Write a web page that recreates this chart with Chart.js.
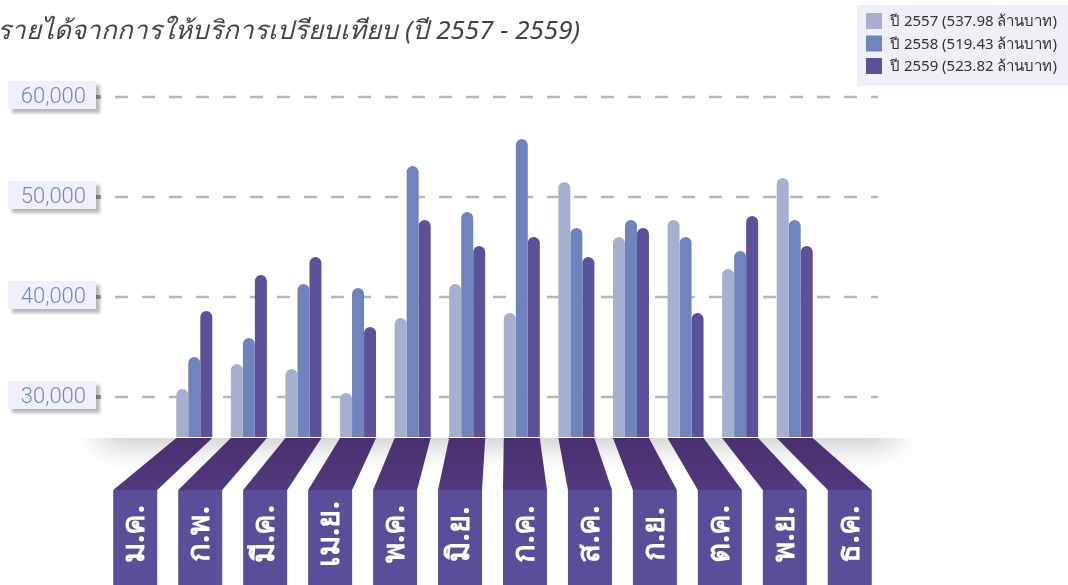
<!DOCTYPE html>
<html>
<head>
<meta charset="utf-8">
<script src="https://cdn.jsdelivr.net/npm/chart.js@4.4.1/dist/chart.umd.min.js"></script>
<style>
  html, body { margin: 0; padding: 0; background: #fff; }
  #wrap { width: 1068px; height: 585px; overflow: hidden; }
</style>
</head>
<body>
<div id="wrap"><canvas id="chart" width="1068" height="585"></canvas></div>
<script>
const title_text = 'รายได้จากการให้บริการเปรียบเทียบ (ปี 2557 - 2559)'
const months = ['ม.ค.', 'ก.พ.', 'มี.ค.', 'เม.ย.', 'พ.ค.', 'มิ.ย.', 'ก.ค.', 'ส.ค.', 'ก.ย.', 'ต.ค.', 'พ.ย.', 'ธ.ค.']
const series_names = ['ปี 2557 (537.98 ล้านบาท)', 'ปี 2558 (519.43 ล้านบาท)', 'ปี 2559 (523.82 ล้านบาท)']
const y2557 = [30800, 33300, 32800, 30400, 37900, 41300, 38400, 51500, 46000, 47700, 42800, 51900]
const y2558 = [34000, 35900, 41300, 40900, 53100, 48500, 55800, 46900, 47700, 46000, 44600, 47700]
const y2559 = [38600, 42200, 44000, 37000, 47700, 45100, 46000, 44000, 46900, 38400, 48100, 45100]
const y_ticks = [30000, 40000, 50000, 60000]
const colors = ['#a6afd0', '#6f84bc', '#5d509b']

const thai_font = '"Noto Sans", "Open Sans", sans-serif'

// gridlines, tick boxes, shadow shelf, month ribbons, title and legend
const decor = {
    id: 'decor',
    beforeDatasetsDraw(chart) {
        const ctx = chart.ctx
        const area = chart.chartArea
        const y = chart.scales.y

        // soft shadow under the bars
        ctx.save()
        ctx.beginPath()
        ctx.rect(0, area.bottom + 1, chart.width, 70)
        ctx.clip()
        ctx.shadowColor = 'rgba(0,0,0,0.30)'
        ctx.shadowBlur = 30
        ctx.shadowOffsetY = 4
        ctx.fillStyle = '#fff'
        ctx.fillRect(100, area.bottom - 20, 795, 21)
        ctx.restore()

        y_ticks.forEach(v => {
            const py = Math.round(y.getPixelForValue(v))

            ctx.save()
            ctx.strokeStyle = '#b8b8b8'
            ctx.lineWidth = 2.5
            ctx.setLineDash([13, 14])
            ctx.beginPath()
            ctx.moveTo(115, py)
            ctx.lineTo(878, py)
            ctx.stroke()
            ctx.restore()

            ctx.fillStyle = '#a0a0a0'
            ctx.fillRect(96, py - 2, 5, 4)

            ctx.save()
            ctx.shadowColor = 'rgba(0,0,0,0.28)'
            ctx.shadowBlur = 3
            ctx.shadowOffsetX = 4
            ctx.shadowOffsetY = 4
            ctx.fillStyle = '#eef1f9'
            ctx.fillRect(8, py - 16, 88, 28)
            ctx.restore()

            ctx.fillStyle = '#7389c2'
            ctx.font = '300 22px Roboto, sans-serif'
            ctx.textAlign = 'right'
            ctx.textBaseline = 'alphabetic'
            ctx.fillText(v.toLocaleString('en-US'), 86, py + 6)
        })
    },
    afterDraw(chart) {
        const ctx = chart.ctx
        const area = chart.chartArea
        const x = chart.scales.x
        const mid = (area.left + area.right) / 2
        const gh = x.width / months.length * 0.66 / 2
        const top = area.bottom + 1
        const bend = area.bottom + 53

        months.forEach((m, i) => {
            const gc = x.getPixelForValue(i)
            const bc = mid - 2 + (gc - mid) * 1.19

            const g = ctx.createLinearGradient(0, top, 0, bend)
            g.addColorStop(0, '#49306f')
            g.addColorStop(1, '#53397e')
            ctx.fillStyle = g
            ctx.beginPath()
            ctx.moveTo(gc - gh, top)
            ctx.lineTo(gc + gh, top)
            ctx.lineTo(bc + 22, bend)
            ctx.lineTo(bc - 22, bend)
            ctx.closePath()
            ctx.fill()

            ctx.fillStyle = '#5c4d9b'
            ctx.fillRect(bc - 22, bend, 44, chart.height - bend)

            ctx.save()
            ctx.translate(bc, 534)
            ctx.rotate(-Math.PI / 2)
            ctx.fillStyle = '#fff'
            ctx.font = 'bold 31px ' + thai_font
            ctx.textAlign = 'center'
            ctx.textBaseline = 'middle'
            ctx.fillText(m, 0, 0)
            ctx.restore()
        })

        // title, cut off at the left edge like the original
        ctx.fillStyle = '#444'
        ctx.font = 'italic 26px ' + thai_font
        ctx.textAlign = 'right'
        ctx.textBaseline = 'alphabetic'
        ctx.fillText(title_text, 580, 39)

        // legend
        ctx.fillStyle = '#eef0f7'
        ctx.fillRect(857, 5, 211, 81)
        chart.data.datasets.forEach((ds, i) => {
            const cy = 21 + i * 22.5
            ctx.fillStyle = ds.backgroundColor
            ctx.fillRect(866, cy - 8, 16, 16)
            ctx.fillStyle = '#333'
            ctx.font = '15px ' + thai_font
            ctx.textAlign = 'left'
            ctx.textBaseline = 'middle'
            ctx.fillText(ds.label, 890, cy + 1)
        })
    }
}

const bar = (label, data, color) => ({
    label: label,
    data: data,
    backgroundColor: color,
    borderRadius: 6,
    borderSkipped: 'bottom',
    categoryPercentage: 0.66,
    barPercentage: 1
})

new Chart(document.getElementById('chart'), {
    type: 'bar',
    data: {
        labels: months,
        datasets: [
            bar(series_names[0], y2557, colors[0]),
            bar(series_names[1], y2558, colors[1]),
            bar(series_names[2], y2559, colors[2])
        ]
    },
    options: {
        responsive: false,
        animation: false,
        devicePixelRatio: 1,
        layout: { padding: { left: 167, right: 246, top: 97, bottom: 148 } },
        scales: {
            x: { display: false },
            y: { display: false, min: 26000, max: 60000 }
        },
        plugins: {
            legend: { display: false },
            tooltip: { enabled: false }
        }
    },
    plugins: [decor]
})
</script>
</body>
</html>
